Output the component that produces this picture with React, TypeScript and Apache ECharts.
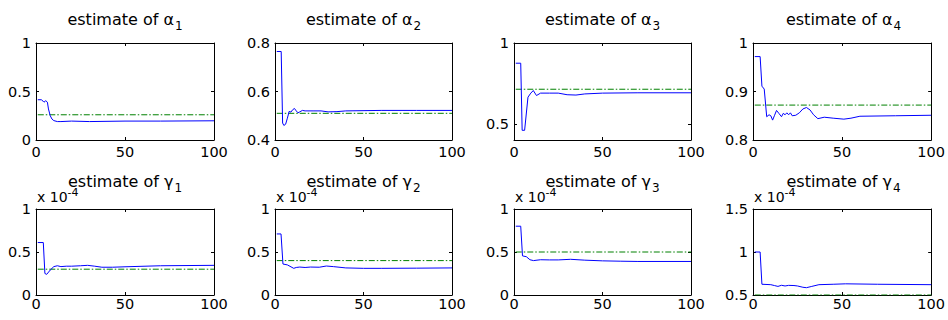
import React, { useEffect, useRef } from "react";
import * as echarts from "echarts";

const FONT = "'DejaVu Sans', Verdana, sans-serif";

// ---- data ----
const xTicks = [0, 50, 100];
const xRange = [1, 100];

const alpha1Est: [number, number][] = [
  [1, 0.415], [3, 0.415], [4, 0.4], [4.5, 0.39], [5.5, 0.405], [6.4, 0.39], [7, 0.32], [8, 0.25],
  [9, 0.215], [10, 0.2], [12, 0.19], [14, 0.19], [20, 0.195], [30, 0.19], [50, 0.195], [70, 0.195], [100, 0.198],
];
const alpha1True = 0.26;

const alpha2Est: [number, number][] = [
  [1, 0.765], [3.5, 0.765], [4.3, 0.47], [5, 0.46], [6, 0.465], [7, 0.49], [8, 0.518], [9, 0.515],
  [10, 0.525], [11, 0.53], [12, 0.52], [13, 0.512], [14, 0.516], [15.5, 0.522], [17, 0.52], [22, 0.52],
  [26, 0.52], [30, 0.516], [35, 0.517], [40, 0.52], [60, 0.522], [80, 0.522], [100, 0.522],
];
const alpha2True = 0.51;

const alpha3Est: [number, number][] = [
  [1, 0.875], [3.8, 0.875], [4.6, 0.46], [6, 0.46], [7.9, 0.665], [9.5, 0.69], [10.9, 0.706],
  [12.7, 0.675], [15, 0.69], [20, 0.69], [25, 0.69], [30, 0.68], [35, 0.678], [40, 0.685], [50, 0.69],
  [70, 0.692], [100, 0.692],
];
const alpha3True = 0.714;

const alpha4Est: [number, number][] = [
  [1, 0.972], [4, 0.972], [5, 0.911], [6.3, 0.905], [7.7, 0.848], [9, 0.852], [10, 0.85], [11, 0.841],
  [12, 0.85], [13.2, 0.861], [14.5, 0.855], [16, 0.848], [17, 0.855], [18, 0.852], [19, 0.856], [20, 0.852],
  [21, 0.856], [22, 0.85], [24, 0.851], [26, 0.856], [28, 0.864], [30, 0.867], [32, 0.862], [34, 0.852],
  [36.4, 0.844], [40, 0.847], [45, 0.845], [51, 0.843], [55, 0.845], [60, 0.849], [80, 0.85], [100, 0.851],
];
const alpha4True = 0.872;

const gamma1Est: [number, number][] = [
  [1, 0.61], [4.1, 0.61], [5, 0.25], [6, 0.24], [8, 0.29], [10, 0.33], [12, 0.34], [14, 0.33],
  [17, 0.335], [20, 0.335], [25, 0.34], [29, 0.345], [33, 0.335], [37, 0.323], [43, 0.323], [50, 0.328],
  [70, 0.34], [100, 0.345],
];
const gamma1True = 0.3;

const gamma2Est: [number, number][] = [
  [1, 0.71], [3.4, 0.71], [4.5, 0.36], [7, 0.35], [10.6, 0.31], [12, 0.32], [14, 0.325], [17, 0.32],
  [20, 0.325], [25, 0.323], [29, 0.337], [33, 0.33], [40, 0.315], [50, 0.31], [60, 0.31], [80, 0.312],
  [100, 0.315],
];
const gamma2True = 0.4;

const gamma3Est: [number, number][] = [
  [1, 0.8], [3.8, 0.8], [4.8, 0.455], [7, 0.445], [9, 0.41], [11, 0.4], [13, 0.405], [15, 0.41],
  [20, 0.408], [25, 0.408], [32, 0.415], [40, 0.405], [50, 0.397], [60, 0.393], [70, 0.39], [100, 0.39],
];
const gamma3True = 0.5;

const gamma4Est: [number, number][] = [
  [1, 1.0], [4, 1.0], [5, 0.625], [10, 0.62], [12, 0.61], [14, 0.6], [16, 0.613], [18, 0.605],
  [20, 0.612], [23, 0.61], [25, 0.605], [28, 0.59], [30, 0.585], [33, 0.6], [37, 0.62], [45, 0.625],
  [52, 0.63], [70, 0.625], [100, 0.62],
];
const gamma4True = 0.5;

const symbols = ["α", "α", "α", "α", "γ", "γ", "γ", "γ"];
const subs = ["1", "2", "3", "4", "1", "2", "3", "4"];
const estimates = [alpha1Est, alpha2Est, alpha3Est, alpha4Est, gamma1Est, gamma2Est, gamma3Est, gamma4Est];
const truths = [alpha1True, alpha2True, alpha3True, alpha4True, gamma1True, gamma2True, gamma3True, gamma4True];
const yRanges: [number, number][] = [[0, 1], [0.4, 0.8], [0.4, 1], [0.8, 1], [0, 1], [0, 1], [0, 1], [0.5, 1.5]];
const yTicks: number[][] = [
  [0, 0.5, 1], [0.4, 0.6, 0.8], [0.5, 1], [0.8, 0.9, 1],
  [0, 0.5, 1], [0, 0.5, 1], [0, 0.5, 1], [0.5, 1, 1.5],
];
const exponentLabel = ["", "", "", "", "-4", "-4", "-4", "-4"];

// ---- layout ----
const colLefts = [36, 275, 514, 753];
const colWidths = [178, 177, 177, 181];
const rowTops = [43, 209];
const rowHeights = [97, 86];
const titleTops = [11, 173];
const xLabelMargins = [4, 1];
const TICK_FONT = 14.5;

function buildOption(): echarts.EChartsCoreOption {
  const grid: any[] = [];
  const xAxis: any[] = [];
  const yAxis: any[] = [];
  const series: any[] = [];
  const graphic: any[] = [];

  for (let i = 0; i < 8; i++) {
    const row = Math.floor(i / 4);
    const col = i % 4;
    grid.push({
      left: colLefts[col],
      top: rowTops[row],
      width: colWidths[col],
      height: rowHeights[row],
      containLabel: false,
    });
    const axisLineStyle = { show: true, onZero: false, lineStyle: { color: "#000", width: 1 } };
    const tickStyle = (vals: number[]) => ({
      show: true,
      inside: true,
      length: 3,
      customValues: vals,
      lineStyle: { color: "#000", width: 1 },
    });
    xAxis.push({
      type: "value",
      gridIndex: i,
      min: 0,
      max: 100,
      position: "bottom",
      axisLine: axisLineStyle,
      axisTick: tickStyle(xTicks),
      axisLabel: {
        customValues: xTicks,
        color: "#000",
        fontSize: TICK_FONT,
        fontFamily: FONT,
        margin: xLabelMargins[row],
      },
      splitLine: { show: false },
    });
    xAxis.push({
      type: "value",
      gridIndex: i,
      min: 0,
      max: 100,
      position: "top",
      axisLine: axisLineStyle,
      axisTick: tickStyle(xTicks),
      axisLabel: { show: false },
      splitLine: { show: false },
    });
    yAxis.push({
      type: "value",
      gridIndex: i,
      min: yRanges[i][0],
      max: yRanges[i][1],
      position: "left",
      axisLine: axisLineStyle,
      axisTick: tickStyle(yTicks[i]),
      axisLabel: {
        customValues: yTicks[i],
        color: "#000",
        fontSize: TICK_FONT,
        fontFamily: FONT,
        margin: 5,
      },
      splitLine: { show: false },
    });
    yAxis.push({
      type: "value",
      gridIndex: i,
      min: yRanges[i][0],
      max: yRanges[i][1],
      position: "right",
      axisLine: axisLineStyle,
      axisTick: tickStyle(yTicks[i]),
      axisLabel: { show: false },
      splitLine: { show: false },
    });

    series.push({
      type: "line",
      xAxisIndex: 2 * i,
      yAxisIndex: 2 * i,
      data: [[xRange[0], truths[i]], [xRange[1], truths[i]]],
      showSymbol: false,
      symbol: "none",
      lineStyle: { color: "#008000", width: 1, type: [6, 2, 1.5, 2] },
      clip: true,
      silent: true,
    });
    series.push({
      type: "line",
      xAxisIndex: 2 * i,
      yAxisIndex: 2 * i,
      data: estimates[i],
      showSymbol: false,
      symbol: "none",
      lineStyle: { color: "#0000ff", width: 1 },
      clip: true,
      silent: true,
    });

    if (exponentLabel[i]) {
      graphic.push({
        type: "text",
        x: colLefts[col] + 1,
        y: rowTops[row] - 22,
        z: 90,
        style: {
          text: `{a|x 10}{b|${exponentLabel[i]}}`,
          align: "left",
          verticalAlign: "top",
          fill: "#000",
          rich: {
            a: { fontSize: 14, fontFamily: FONT, fill: "#000", verticalAlign: "top", padding: [3, 0, 0, 0] },
            b: { fontSize: 11, fontFamily: FONT, fill: "#000", verticalAlign: "top" },
          },
        },
      });
    }

    graphic.push({
      type: "text",
      x: colLefts[col] + colWidths[col] / 2,
      y: titleTops[row],
      z: 100,
      style: {
        text: `{a|estimate of ${symbols[i]}}{b|${subs[i]}}`,
        align: "center",
        verticalAlign: "top",
        fill: "#000",
        rich: {
          a: { fontSize: 16, fontFamily: FONT, fill: "#000", verticalAlign: "top" },
          b: { fontSize: 12, fontFamily: FONT, fill: "#000", verticalAlign: "top", padding: [9, 0, 0, 1] },
        },
      },
    });
  }

  return {
    animation: false,
    backgroundColor: "#fff",
    grid,
    xAxis,
    yAxis,
    series,
    graphic,
  };
}

export default function App() {
  const ref = useRef<HTMLDivElement>(null);
  useEffect(() => {
    if (!ref.current) return;
    const chart = echarts.init(ref.current, undefined, { renderer: "svg" });
    chart.setOption(buildOption());
    return () => chart.dispose();
  }, []);
  return (
    <div
      ref={ref}
      style={{ position: "absolute", left: 0, top: 0, width: 948, height: 320, background: "#fff" }}
    />
  );
}
